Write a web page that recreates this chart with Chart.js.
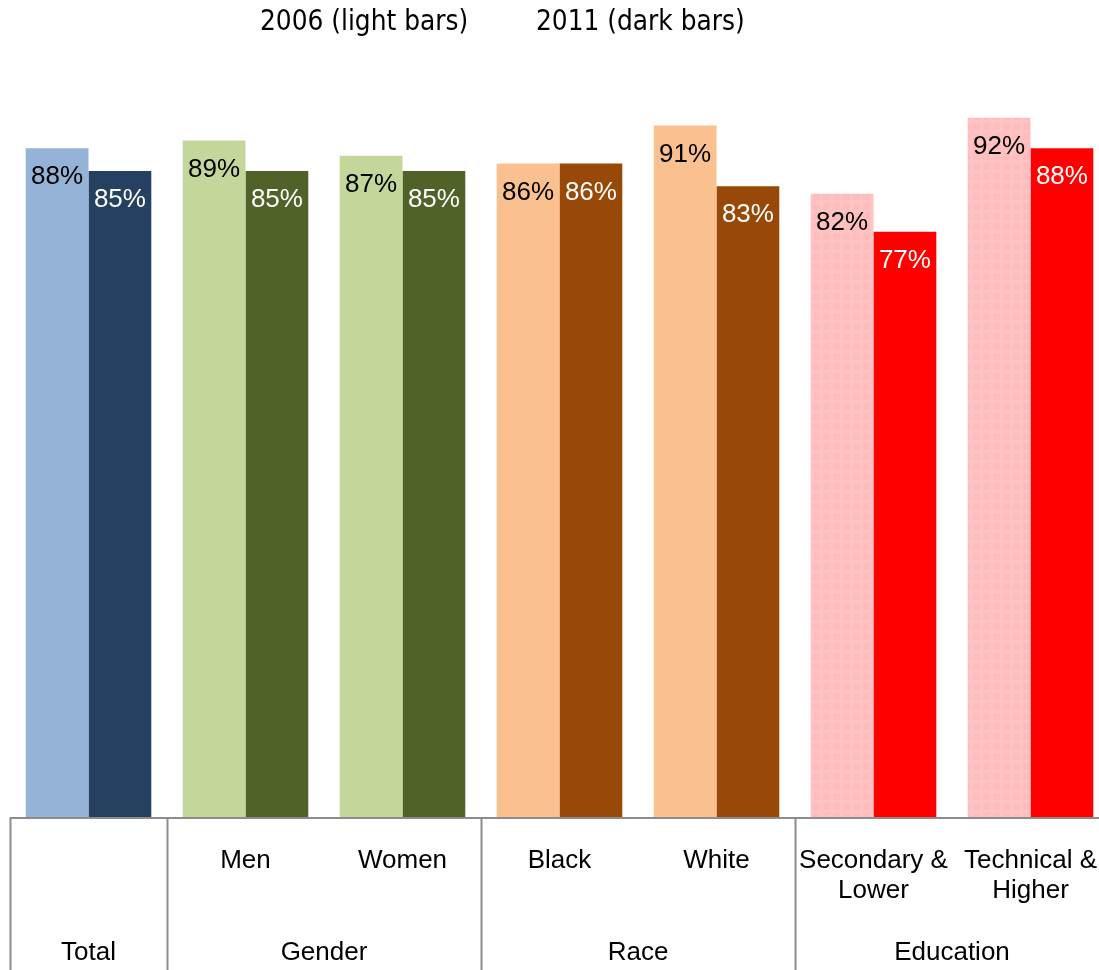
<!DOCTYPE html>
<html>
<head>
<meta charset="utf-8">
<script src="https://cdn.jsdelivr.net/npm/chart.js@4"></script>
<style>
html,body{margin:0;padding:0;background:#fff;overflow:hidden;}
#wrap{position:absolute;left:0;top:0;width:1110px;height:970px;}
</style>
</head>
<body>
<div id="wrap"><canvas id="c" width="1110" height="970"></canvas></div>
<script>
const categories = ["Total", "Men", "Women", "Black", "White", "Secondary & Lower", "Technical & Higher"];
const subLabels = [[""], ["Men"], ["Women"], ["Black"], ["White"], ["Secondary &", "Lower"], ["Technical &", "Higher"]];
const groups = [
  {name: "Total", from: 0, to: 0},
  {name: "Gender", from: 1, to: 2},
  {name: "Race", from: 3, to: 4},
  {name: "Education", from: 5, to: 6}
];
const values2006 = [88, 89, 87, 86, 91, 82, 92];
const values2011 = [85, 85, 85, 86, 83, 77, 88];
const titleLeft = "2006 (light bars)";
const titleRight = "2011 (dark bars)";

function pinkPattern(){
  const p = document.createElement('canvas');
  p.width = 10; p.height = 10;
  const g = p.getContext('2d');
  g.fillStyle = '#FFBCBC'; g.fillRect(0,0,10,10);
  g.fillStyle = '#FFC3C3'; g.fillRect(0,0,10,3); g.fillRect(0,0,3,10);
  return document.getElementById('c').getContext('2d').createPattern(p,'repeat');
}
const pat = pinkPattern();
const lightColors = ['#95B3D7', '#C4D79B', '#C4D79B', '#FAC090', '#FAC090', pat, pat];
const darkColors = ['#254061', '#4F6228', '#4F6228', '#984807', '#984807', '#FF0000', '#FF0000'];

const decor = {
  id: 'decor',
  afterDatasetsDraw(chart){
    const ctx = chart.ctx;
    const x = chart.scales.x;
    const n = categories.length;
    const step = x.getPixelForValue(1) - x.getPixelForValue(0);
    const edge = i => x.getPixelForValue(i) - step/2;
    ctx.save();
    ctx.font = '26px "Liberation Sans", Arial, sans-serif';
    ctx.textAlign = 'center';
    ctx.textBaseline = 'middle';
    chart.data.datasets.forEach((ds, di) => {
      const meta = chart.getDatasetMeta(di);
      meta.data.forEach((bar, i) => {
        ctx.fillStyle = di === 0 ? '#000' : '#fff';
        ctx.fillText(ds.data[i] + '%', bar.x, bar.y + 29);
      });
    });
    const base = chart.scales.y.getPixelForValue(0);
    ctx.strokeStyle = '#8c8c8c';
    ctx.lineWidth = 2;
    ctx.beginPath();
    ctx.moveTo(edge(0), base + 1);
    ctx.lineTo(edge(n), base + 1);
    ctx.stroke();
    const bottom = chart.height;
    groups.forEach(g => {
      const xx = Math.round(edge(g.from)) + 0.5;
      ctx.beginPath();
      ctx.moveTo(xx, base);
      ctx.lineTo(xx, bottom);
      ctx.stroke();
    });
    ctx.fillStyle = '#000';
    ctx.font = '26px "Liberation Sans", Arial, sans-serif';
    subLabels.forEach((lines, i) => {
      lines.forEach((t, li) => {
        ctx.fillText(t, x.getPixelForValue(i), base + 44 + li * 30);
      });
    });
    groups.forEach(g => {
      const cx = (edge(g.from) + edge(g.to + 1)) / 2;
      ctx.fillText(g.name, cx, base + 136);
    });
    ctx.textAlign = 'left';
    ctx.font = '100px "Liberation Sans Narrow", "DejaVu Sans Condensed", sans-serif';
    const w100 = ctx.measureText(titleLeft).width;
    const size = 100 * 208 / w100;
    ctx.font = size.toFixed(1) + 'px "Liberation Sans Narrow", "DejaVu Sans Condensed", sans-serif';
    ctx.fillText(titleLeft, 260, 23);
    ctx.fillText(titleRight, 536, 23);
    ctx.restore();
  }
};

new Chart(document.getElementById('c'), {
  type: 'bar',
  data: {
    labels: categories,
    datasets: [
      {label: '2006', data: values2006, backgroundColor: lightColors, borderWidth: 0},
      {label: '2011', data: values2011, backgroundColor: darkColors, borderWidth: 0}
    ]
  },
  options: {
    responsive: false,
    animation: false,
    events: [],
    layout: {padding: {left: 10, right: 1, top: 57, bottom: 153}},
    categoryPercentage: 0.8,
    barPercentage: 1.0,
    plugins: {legend: {display: false}, tooltip: {enabled: false}, title: {display: false}},
    scales: {
      x: {display: false, offset: true},
      y: {display: false, min: 0, max: 100}
    }
  },
  plugins: [decor]
});
</script>
</body>
</html>
